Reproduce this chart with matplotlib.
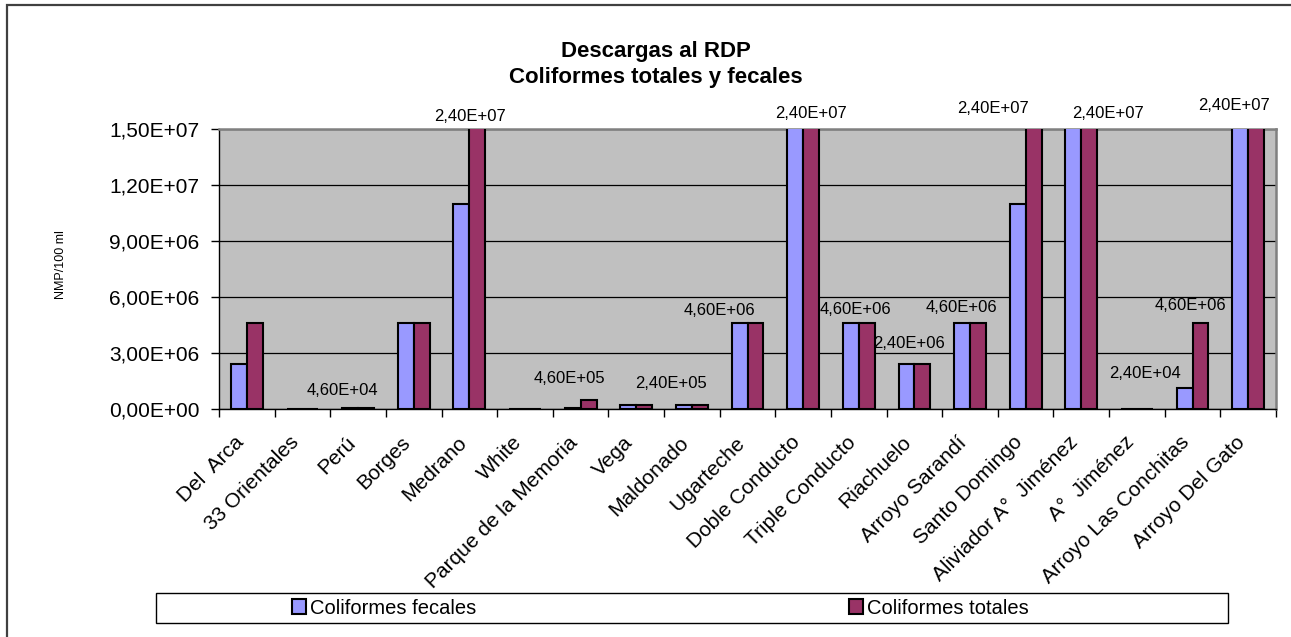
import matplotlib
matplotlib.use("Agg")
import matplotlib.pyplot as plt
import matplotlib.transforms as mtransforms
import numpy as np
from matplotlib.patches import Rectangle, Patch
from matplotlib.ticker import FuncFormatter, FixedLocator

# ---------------- data ----------------
categories = ["Del  Arca", "33 Orientales", "Perú", "Borges", "Medrano", "White",
              "Parque de la Memoria", "Vega", "Maldonado", "Ugarteche",
              "Doble Conducto", "Triple Conducto", "Riachuelo", "Arroyo Sarandí",
              "Santo Domingo", "Aliviador A°  Jiménez", "A°  Jiménez",
              "Arroyo Las Conchitas", "Arroyo Del Gato"]
fecales = [2.4e6, 2.4e4, 4.6e4, 4.6e6, 1.1e7, 2.4e4, 4.6e4, 2.4e5, 2.4e5, 4.6e6,
           2.4e7, 4.6e6, 2.4e6, 4.6e6, 1.1e7, 2.4e7, 2.4e4, 1.1e6, 2.4e7]
totales = [4.6e6, 2.4e4, 4.6e4, 4.6e6, 2.4e7, 2.4e4, 4.6e5, 2.4e5, 2.4e5, 4.6e6,
           2.4e7, 4.6e6, 2.4e6, 4.6e6, 2.4e7, 2.4e7, 2.4e4, 4.6e6, 2.4e7]
series_names = ["Coliformes fecales", "Coliformes totales"]
y_ticks = [0, 3e6, 6e6, 9e6, 1.2e7, 1.5e7]

# which categories carry a data label (of the totales series)
labelled = ["Perú", "Medrano", "Parque de la Memoria", "Maldonado", "Ugarteche",
            "Doble Conducto", "Triple Conducto", "Riachuelo", "Arroyo Sarandí",
            "Santo Domingo", "Aliviador A°  Jiménez", "A°  Jiménez",
            "Arroyo Las Conchitas", "Arroyo Del Gato"]

# ---------------- layout (label placement: x offset in categories, y centre in data units) ----
label_layout = {
    "Perú": (-0.29, 9.8e5),
    "Medrano": (0.02, 1.567e7),
    "Parque de la Memoria": (-0.20, 1.66e6),
    "Maldonado": (-0.38, 1.39e6),
    "Ugarteche": (-0.50, 5.27e6),
    "Doble Conducto": (0.15, 1.587e7),
    "Triple Conducto": (-0.06, 5.36e6),
    "Riachuelo": (-0.10, 3.49e6),
    "Arroyo Sarandí": (-0.15, 5.47e6),
    "Santo Domingo": (-0.58, 1.609e7),
    "Aliviador A°  Jiménez": (0.48, 1.587e7),
    "A°  Jiménez": (0.15, 1.88e6),
    "Arroyo Las Conchitas": (-0.04, 5.54e6),
    "Arroyo Del Gato": (-0.25, 1.627e7),
}

W, H = 1291, 637
plt.rcParams['font.family'] = ['Liberation Sans', 'DejaVu Sans']

fig = plt.figure(figsize=(W / 100, H / 100), dpi=100)
fig.patch.set_facecolor("white")

ax = fig.add_axes([219 / W, 1 - 409 / H, (1276 - 219) / W, (409 - 129.3) / H])
ax.set_facecolor("#C0C0C0")

c_fec = "#9999FF"
c_tot = "#993366"
x = np.arange(len(categories))
bw = 1 / 3.5
ax.bar(x - bw / 2, fecales, width=bw, color=c_fec, edgecolor="black", linewidth=1.5, zorder=3)
ax.bar(x + bw / 2, totales, width=bw, color=c_tot, edgecolor="black", linewidth=1.5, zorder=3)

ax.set_xlim(-0.5, len(categories) - 0.5)
ax.set_ylim(0, 1.5e7)
ax.yaxis.set_major_locator(FixedLocator(y_ticks))
ax.yaxis.set_major_formatter(FuncFormatter(lambda v, p: f"{v:.2E}".replace('.', ',')))
ax.grid(axis="y", color="black", linewidth=0.9, zorder=1)
ax.set_axisbelow(True)

# ticks
ax.set_xticks(x)
ax.set_xticklabels(categories, rotation=45, ha="right", va="center",
                   rotation_mode="anchor", fontsize=15)
ax.tick_params(axis="x", which="major", length=0, pad=22)
shift = mtransforms.ScaledTranslation(-6 / 100, 0, fig.dpi_scale_trans)
for lab in ax.get_xticklabels():
    lab.set_transform(lab.get_transform() + shift)
ax.set_xticks(np.arange(-0.5, len(categories)), minor=True)
ax.tick_params(axis="x", which="minor", length=6, width=1, direction="out")
ax.tick_params(axis="y", length=6, width=1, direction="out", pad=8, labelsize=15)

for s in ["top", "right"]:
    ax.spines[s].set_color("#808080")
    ax.spines[s].set_linewidth(1.8)
for s in ["left", "bottom"]:
    ax.spines[s].set_color("black")
    ax.spines[s].set_linewidth(1.0)
ax.spines["bottom"].set_zorder(4)

# data labels
for name in labelled:
    i = categories.index(name)
    dx, yc = label_layout[name]
    txt = f"{totales[i]:.2E}".replace('.', ',')
    ax.text(i + dx, yc, txt, ha="center", va="center", fontsize=12,
            clip_on=False, zorder=5)

ax.set_ylabel("NMP/100 ml", fontsize=9)
ax.yaxis.set_label_coords((67 - 219) / (1276 - 219), (409 - 265) / (409 - 129.3))

# title
fig.text(656 / W, 1 - 52 / H, "Descargas al RDP", ha="center", va="center",
         fontsize=16, fontweight="bold")
fig.text(656 / W, 1 - 77 / H, "Coliformes totales y fecales", ha="center", va="center",
         fontsize=16, fontweight="bold")

# legend
fig.add_artist(Rectangle((155.7 / W, 1 - 623 / H), (1228 - 155.7) / W, (623 - 592.7) / H,
                         transform=fig.transFigure, facecolor="white",
                         edgecolor="black", linewidth=1.0, zorder=1))
handles = [Patch(facecolor=c_fec, edgecolor="black", linewidth=1.5),
           Patch(facecolor=c_tot, edgecolor="black", linewidth=1.5)]
leg = fig.legend(handles, series_names, loc="center left",
                 bbox_to_anchor=(292 / W, 1 - 608 / H), ncol=2, frameon=False,
                 fontsize=14.5, handlelength=0.7, handleheight=0.7,
                 handletextpad=0.2, columnspacing=18.5, borderpad=0,
                 borderaxespad=0)
leg.set_zorder(2)

# outer chart border (left and top visible)
fig.add_artist(Rectangle((7 / W, -0.1), 1.2, 1.1 - 5 / H, transform=fig.transFigure,
                         facecolor="none", edgecolor="#404040", linewidth=1.6))

fig.savefig("out.png", dpi=100)
